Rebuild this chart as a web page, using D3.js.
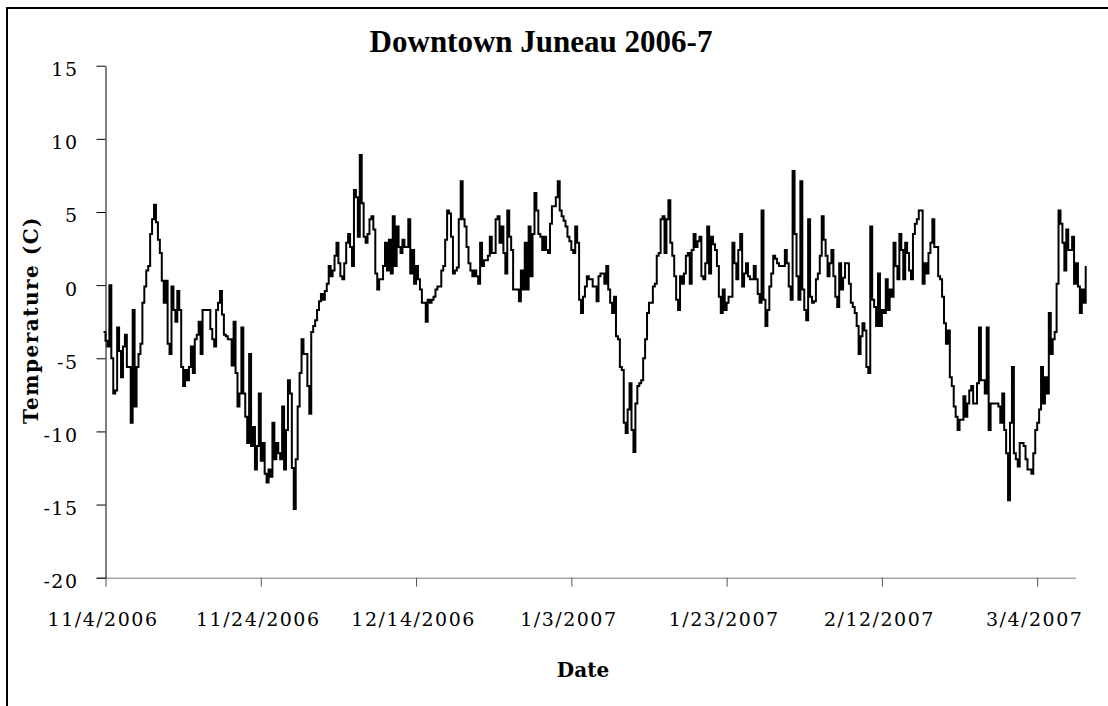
<!DOCTYPE html>
<html>
<head>
<meta charset="utf-8">
<script src="https://cdn.jsdelivr.net/npm/d3@7"></script>
<style>
  body { margin: 0; background: #fff; }
  svg { display: block; }
</style>
</head>
<body>
<script>
var width = 1108, height = 706;

// plot box, Excel-like
var plotLeft = 105.5, plotRight = 1076, plotTop = 65.7, plotBottom = 577.7;

var chartTitle = "Downtown Juneau 2006-7";
var xTitle = "Date";
var yTitle = "Temperature (C)";

var xTickLabels = ["11/4/2006", "11/24/2006", "12/14/2006", "1/3/2007",
                   "1/23/2007", "2/12/2007", "3/4/2007"];
var yTicks = [-20, -15, -10, -5, 0, 5, 10, 15];
var axisEnd = "3/9/2007";

// readings every 6 hours, first one 11/3/2006 18:00
var firstReading = Date.UTC(2006, 10, 3, 18);
var stepHours = 6;
var temps = [
  -3.2,
  -3.8, -4.2, 0.0, -5.0,      // 11/4
  -7.4, -7.2, -2.9, -4.5,
  -6.3, -4.2, -3.4, -5.6,
  -5.6, -9.4, -1.7, -8.3,
  -5.6, -4.7, -4.0, -1.2,
  -0.1, 1.0, 1.3, 3.5,
  4.5, 5.5, 4.3, 3.1,
  2.2, 0.3, -1.2, 0.3,
  -4.0, -4.7, -0.1, -1.7,
  -2.5, -0.4, -1.7, -5.6,
  -6.9, -5.8, -6.5, -5.6,     // 11/14
  -4.2, -6.0, -3.7, -3.4,
  -2.5, -4.7, -1.7, -1.7,
  -1.7, -1.7, -3.0, -3.7,
  -4.2, -1.7, -1.2, -0.4,
  -2.0, -3.4, -3.5, -3.7,
  -3.7, -5.5, -2.5, -6.0,
  -8.3, -7.4, -2.9, -7.4,
  -9.0, -10.8, -4.7, -11.0,
  -9.7, -12.6, -11.0, -7.4,
  -12.0, -10.8, -12.9, -13.5, // 11/24
  -12.6, -13.1, -9.4, -11.9,
  -10.8, -11.5, -11.9, -8.3,
  -12.6, -9.9, -6.5, -7.4,
  -12.5, -15.3, -11.9, -8.3,
  -6.0, -3.7, -4.7, -4.7,
  -6.9, -8.8, -3.2, -2.8,
  -2.4, -1.7, -1.1, -0.6,
  -1.0, -0.4, 0.1, 1.3,
  0.6, 1.0, 2.0, 2.9,
  1.5, 0.6, 0.4, 1.5,         // 12/4
  2.9, 3.5, 2.6, 1.3,
  6.5, 6.0, 3.3, 8.9,
  5.6, 3.3, 2.9, 3.5,
  4.5, 4.7, 3.8, 0.8,
  -0.3, 0.4, 0.4, 1.3,
  2.9, 1.0, 3.1, 0.8,
  4.7, 1.3, 4.0, 2.6,
  2.2, 3.1, 2.6, 2.6,
  4.5, 0.8, 2.4, 0.1,
  1.3, 0.4, -0.3, -1.2,       // 12/14
  -1.2, -2.5, -1.0, -1.2,
  -1.0, -0.8, -0.3, -0.1,
  -0.1, 1.0, 1.3, 3.1,
  5.1, 4.9, 3.3, 0.8,
  1.0, 1.2, 4.5, 7.1,
  4.5, 4.0, 2.6, 1.5,
  1.0, 0.6, 1.0, 0.6,
  0.1, 2.9, 1.3, 1.7,
  1.7, 2.0, 3.3, 2.2,
  2.2, 4.5, 4.7, 2.9,         // 12/24
  4.0, 2.2, 0.8, 5.1,
  3.3, 2.4, -0.3, -0.3,
  -0.3, -1.1, 1.0, -0.3,
  2.9, -0.3, 4.0, 0.6,
  3.5, 6.3, 5.1, 3.5,
  3.3, 2.4, 3.3, 2.4,
  2.2, 4.2, 5.4, 5.4,
  6.0, 7.1, 5.1, 4.7,
  4.4, 4.0, 3.3, 3.0,
  2.4, 2.2, 4.0, 2.9,         // 1/3
  -1.0, -1.9, -0.8, -0.1,
  0.6, 0.4, 0.4, -0.1,
  -0.1, -1.1, 0.6, 0.8,
  0.8, 0.1, 1.3, -0.3,
  -1.2, -1.9, -0.8, -3.5,
  -3.7, -5.6, -5.8, -9.4,
  -10.1, -8.5, -6.7, -9.9,
  -11.4, -8.1, -6.9, -6.7,
  -6.5, -5.0, -3.7, -1.9,
  -1.2, -1.2, -0.1, 0.1,      // 1/13
  2.0, 2.2, 4.5, 4.7,
  2.2, 4.5, 5.8, 2.9,
  2.0, 0.6, -1.0, -1.7,
  0.6, 0.1, 0.8, 2.0,
  2.2, 0.1, 2.4, 3.5,
  2.6, 3.0, 3.3, 0.6,
  0.4, 1.5, 4.0, 0.8,
  3.3, 2.8, 2.4, 1.3,
  -0.8, -1.9, -0.3, -1.7,
  -1.2, -0.8, -0.8, 2.9,      // 1/23
  1.5, 0.4, 2.4, 3.5,
  -0.1, 0.8, 1.5, 0.6,
  0.4, 0.4, 1.3, 0.4,
  -0.6, -1.2, 5.1, -1.0,
  -2.8, -1.7, -0.1, 0.8,
  2.0, 1.8, 1.5, 1.3,
  1.3, 1.3, 2.4, 1.5,
  -0.1, -1.0, 7.8, 3.5,
  0.6, -1.0, 7.1, -0.3,
  -1.7, -2.4, 4.5, -0.8,      // 2/2
  -1.2, -1.1, 0.4, 0.8,
  2.0, 4.7, 3.1, 2.0,
  0.6, 1.5, 2.4, 0.6,
  -0.8, -1.5, 1.5, -0.3,
  0.5, 1.5, 1.5, 0.1,
  -1.2, -1.5, -1.9, -2.8,
  -4.7, -3.5, -2.6, -3.1,
  -5.6, -6.0, 4.0, -1.0,
  -1.5, -2.8, 0.8, -2.8,
  -1.7, -1.9, 0.4, -1.7,      // 2/12
  -0.3, -0.8, 2.9, 1.3,
  0.4, 3.5, 2.4, 0.4,
  2.9, 2.2, 1.0, 0.4,
  3.5, 4.2, 4.5, 5.1,
  5.1, 0.1, 1.5, 0.8,
  2.2, 2.9, 4.5, 2.6,
  2.6, 0.6, 0.4, -0.8,
  -2.6, -4.0, -3.1, -6.3,
  -6.9, -8.3, -9.0, -9.9,
  -9.2, -9.2, -7.6, -9.0,     // 2/22
  -8.1, -7.2, -6.9, -8.1,
  -8.1, -6.7, -2.9, -6.5,
  -6.5, -7.4, -2.9, -9.9,
  -8.1, -8.1, -8.1, -8.1,
  -8.3, -9.4, -7.4, -9.9,
  -11.5, -14.7, -9.4, -5.6,
  -11.5, -11.9, -12.4, -10.8,
  -10.8, -11.0, -11.9, -12.6,
  -12.6, -12.9, -11.5, -9.9,
  -9.4, -8.5, -5.6, -8.1,     // 3/4
  -6.3, -7.4, -1.9, -4.7,
  -3.7, -3.2, 0.1, 5.1,
  4.2, 2.9, 1.0, 3.8,
  2.4, 2.4, 3.3, 0.1,
  1.5, -0.1, -1.9, -0.3,
  -1.2, 1.3
];

var parseDate = d3.utcParse("%m/%d/%Y");
var fmt = d3.utcFormat("%-m/%-d/%Y");

var series = temps.map(function (t, i) {
  return { date: new Date(firstReading + i * stepHours * 3600e3), t: t };
});

var x = d3.scaleUtc()
  .domain([parseDate(xTickLabels[0]), parseDate(axisEnd)])
  .range([plotLeft, plotRight]);

var y = d3.scaleLinear()
  .domain([-20, 15])
  .range([plotBottom, plotTop]);

var svg = d3.select("body")
  .append("svg")
  .attr("width", width)
  .attr("height", height);

svg.append("rect")
  .attr("width", width)
  .attr("height", height)
  .attr("fill", "#fff");

// chart area border (runs off the right and bottom)
svg.append("rect")
  .attr("x", 7)
  .attr("y", 8)
  .attr("width", 1300)
  .attr("height", 900)
  .attr("fill", "none")
  .attr("stroke", "#000")
  .attr("stroke-width", 2);

// title
svg.append("text")
  .attr("x", 541)
  .attr("y", 52)
  .attr("text-anchor", "middle")
  .style("font-family", "'Liberation Serif', serif")
  .style("font-weight", "bold")
  .style("font-size", "31px")
  .text(chartTitle);

// x axis
var xAxis = svg.append("g")
  .attr("transform", "translate(0," + plotBottom + ")")
  .call(d3.axisBottom(x)
    .tickValues(xTickLabels.map(parseDate))
    .tickFormat(fmt)
    .tickSize(9)
    .tickSizeOuter(0));

xAxis.select(".domain")
  .attr("d", "M" + (plotLeft - 9) + ",0.5H" + plotRight)
  .attr("stroke", "#7a7a7a");
xAxis.selectAll(".tick line").attr("stroke", "#555");
xAxis.selectAll(".tick text")
  .attr("y", 48)
  .attr("dy", null)
  .attr("dx", -3)
  .attr("fill", "#000")
  .style("font-family", "'DejaVu Serif', serif")
  .style("font-size", "19px")
  .style("letter-spacing", "1.5px");

// y axis (plain hyphen for negatives, as in the original)
var yAxis = svg.append("g")
  .attr("transform", "translate(" + plotLeft + ",0)")
  .call(d3.axisLeft(y)
    .tickValues(yTicks)
    .tickFormat(function (d) { return String(d); })
    .tickSize(9)
    .tickSizeOuter(0));

yAxis.select(".domain").attr("stroke", "#000");
yAxis.selectAll(".tick line").attr("stroke", "#000");
yAxis.selectAll(".tick text")
  .attr("x", -27)
  .attr("dy", 10)
  .attr("fill", "#000")
  .style("font-family", "'DejaVu Serif', serif")
  .style("font-size", "19px")
  .style("letter-spacing", "1.5px");

// axis titles
svg.append("text")
  .attr("transform", "translate(38,320) rotate(-90)")
  .attr("text-anchor", "middle")
  .style("font-family", "'DejaVu Serif', serif")
  .style("font-weight", "bold")
  .style("font-size", "20px")
  .style("letter-spacing", "1.5px")
  .text(yTitle);

svg.append("text")
  .attr("x", 583)
  .attr("y", 677)
  .attr("text-anchor", "middle")
  .style("font-family", "'DejaVu Serif', serif")
  .style("font-weight", "bold")
  .style("font-size", "20px")
  .text(xTitle);

// temperature trace
var line = d3.line()
  .x(function (d) { return x(d.date); })
  .y(function (d) { return y(d.t); })
  .curve(d3.curveStepAfter);

svg.append("path")
  .datum(series)
  .attr("fill", "none")
  .attr("stroke", "#000")
  .attr("stroke-width", 2)
  .attr("stroke-linejoin", "miter")
  .attr("d", line);
</script>
</body>
</html>
